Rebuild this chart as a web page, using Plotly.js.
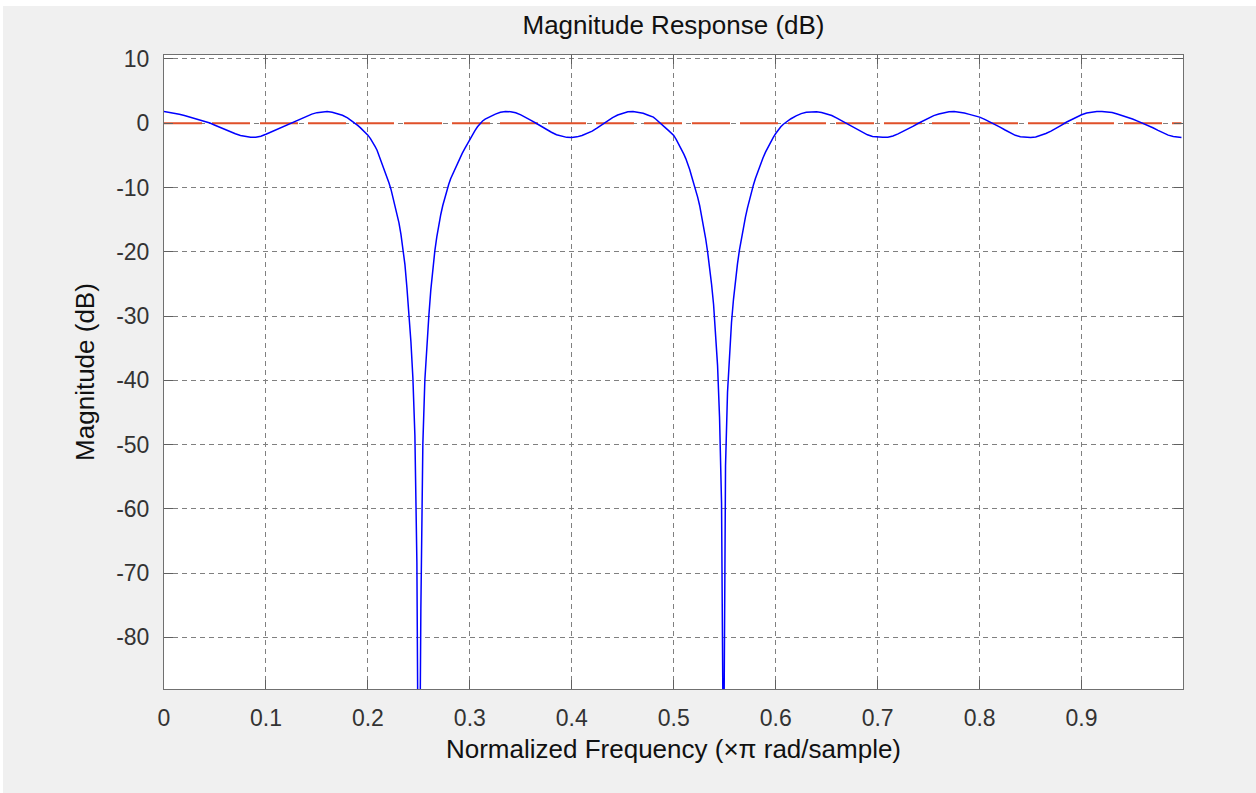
<!DOCTYPE html>
<html>
<head>
<meta charset="utf-8">
<script src="https://cdn.plot.ly/plotly-3.0.1.min.js"></script>
<style>
  html, body { margin: 0; padding: 0; background: #ffffff; }
  #chart { position: absolute; left: 3px; top: 6px; width: 1253px; height: 787px; }
</style>
</head>
<body>
<div id="chart"></div>
<script>
// Normalized frequency (x pi rad/sample)
const freq = [
  0.000, 0.005, 0.010, 0.015, 0.020, 0.025, 0.030, 0.035, 0.040, 0.045,
  0.050, 0.055, 0.060, 0.065, 0.070, 0.075, 0.080, 0.085, 0.090, 0.095,
  0.100, 0.105, 0.110, 0.115, 0.120, 0.125, 0.130, 0.135, 0.140, 0.145,
  0.150, 0.155, 0.160, 0.165, 0.170, 0.175, 0.180, 0.1825, 0.185, 0.1875,
  0.190, 0.1925, 0.195, 0.1975, 0.200, 0.2025, 0.205, 0.2070, 0.20898,
  0.21094, 0.21289, 0.21484, 0.21680, 0.21875, 0.22070, 0.22266, 0.22461,
  0.22656, 0.22852, 0.23047, 0.23242, 0.23438, 0.23633, 0.23828, 0.24023,
  0.24219, 0.24414, 0.24609, 0.24805, 0.25000, 0.25195, 0.25391, 0.25586,
  0.25781, 0.25977, 0.26172, 0.26367, 0.26563, 0.26758, 0.26953, 0.27148,
  0.27344, 0.27539, 0.27734, 0.27930, 0.28125,
  0.2832, 0.2855, 0.2875, 0.2900, 0.2925, 0.2950, 0.2975, 0.3000, 0.3025,
  0.3050, 0.3075, 0.3100, 0.3125, 0.3150, 0.320, 0.325, 0.330,
  0.335, 0.340, 0.345, 0.350, 0.355, 0.360, 0.365, 0.370, 0.375, 0.380,
  0.385, 0.390, 0.395, 0.400, 0.405, 0.410, 0.415, 0.420, 0.425, 0.430,
  0.435, 0.440, 0.445, 0.450, 0.455, 0.460, 0.465, 0.470, 0.475, 0.480,
  0.4825, 0.485, 0.4875, 0.490, 0.4925, 0.495, 0.4975, 0.500, 0.5025, 0.505,
  0.5075, 0.510, 0.5118,
  0.51367, 0.51563, 0.51758, 0.51953, 0.52148, 0.52344, 0.52539, 0.52734,
  0.52930, 0.53125, 0.53320, 0.53516, 0.53711, 0.53906, 0.54102, 0.54297,
  0.54492, 0.54688, 0.54883, 0.55078, 0.55273, 0.55469, 0.55664, 0.55859,
  0.56055, 0.56250, 0.56445, 0.56641, 0.56836, 0.57031, 0.57227, 0.57422,
  0.57617, 0.57813, 0.58008,
  0.5825, 0.5850, 0.5875, 0.5900, 0.5925, 0.5950, 0.5975, 0.6000, 0.6025,
  0.6050, 0.6075, 0.6100, 0.6125, 0.615, 0.620, 0.625, 0.630,
  0.635, 0.640, 0.645, 0.650, 0.655, 0.660, 0.665, 0.670, 0.675, 0.680,
  0.685, 0.690, 0.695, 0.700, 0.705, 0.710, 0.715, 0.720, 0.725, 0.730,
  0.735, 0.740, 0.745, 0.750, 0.755, 0.760, 0.765, 0.770, 0.775, 0.780,
  0.785, 0.790, 0.795, 0.800, 0.805, 0.810, 0.815, 0.820, 0.825, 0.830,
  0.835, 0.840, 0.845, 0.850, 0.855, 0.860, 0.865, 0.870, 0.875, 0.880,
  0.885, 0.890, 0.895, 0.900, 0.905, 0.910, 0.915, 0.920, 0.925, 0.930,
  0.935, 0.940, 0.945, 0.950, 0.955, 0.960, 0.965, 0.970, 0.975, 0.980,
  0.985, 0.990, 0.995, 0.998
];

// Magnitude (dB)
const magDb = [
  1.82, 1.72, 1.56, 1.40, 1.19, 0.98, 0.78, 0.52, 0.26, 0.03,
  -0.31, -0.66, -1.02, -1.32, -1.64, -1.92, -2.10, -2.18, -2.19, -2.02,
  -1.72, -1.38, -1.00, -0.66, -0.32, 0.02, 0.38, 0.74, 1.10, 1.42,
  1.65, 1.78, 1.82, 1.71, 1.50, 1.25, 0.85, 0.58, 0.30, 0.00,
  -0.33, -0.68, -1.04, -1.42, -1.85, -2.40, -3.00, -3.60, -4.20,
  -5.0, -5.8, -6.6, -7.5, -8.4, -9.3, -10.3, -11.5,
  -12.7, -13.9, -15.5, -17.3, -19.3, -22.0, -25.6, -29.4,
  -34.0, -39.7, -48.6, -68.4, -120, -75.5, -49.9, -40.0,
  -34.1, -30.0, -25.9, -22.6, -19.9, -17.7, -15.8, -14.2,
  -12.8, -11.6, -10.5, -9.5, -8.6,
  -7.9, -7.0, -6.3, -5.5, -4.7, -3.95, -3.2, -2.5, -1.8,
  -1.15, -0.55, -0.05, 0.35, 0.65, 1.05, 1.42, 1.70,
  1.84, 1.80, 1.62, 1.30, 0.92, 0.45, 0.00, -0.50, -0.95, -1.40,
  -1.78, -2.02, -2.20, -2.22, -2.12, -1.90, -1.60, -1.22, -0.72, -0.18,
  0.38, 0.88, 1.28, 1.58, 1.78, 1.83, 1.74, 1.55, 1.25, 0.95,
  0.62, 0.30, -0.08, -0.45, -0.80, -1.15, -1.50, -1.90, -2.55, -3.25,
  -4.05, -4.85, -5.50,
  -6.2, -7.2, -8.3, -9.3, -10.4, -11.5, -12.8, -14.4,
  -16.0, -17.9, -20.0, -22.4, -25.1, -28.2, -32.3, -37.7,
  -45.8, -59.2, -105, -53.3, -41.9, -35.7, -31.0, -27.4,
  -24.4, -21.9, -19.7, -17.8, -16.1, -14.6, -13.2, -11.9,
  -10.7, -9.6, -8.6,
  -7.5, -6.4, -5.4, -4.5, -3.7, -2.95, -2.25, -1.6, -1.0,
  -0.55, -0.15, 0.15, 0.45, 0.70, 1.15, 1.50, 1.70,
  1.80, 1.80, 1.68, 1.45, 1.20, 0.80, 0.35, -0.02, -0.50, -0.98,
  -1.42, -1.80, -2.05, -2.18, -2.20, -2.17, -1.98, -1.65, -1.28, -0.90,
  -0.45, 0.00, 0.42, 0.82, 1.18, 1.45, 1.66, 1.78, 1.82, 1.73,
  1.58, 1.38, 1.16, 0.95, 0.60, 0.22, -0.12, -0.60, -1.05, -1.50,
  -1.88, -2.10, -2.20, -2.22, -2.14, -1.92, -1.60, -1.22, -0.82, -0.32,
  0.15, 0.55, 0.95, 1.32, 1.58, 1.74, 1.81, 1.82, 1.77, 1.66,
  1.45, 1.22, 0.95, 0.65, 0.32, 0.02, -0.35, -0.70, -1.10, -1.48,
  -1.85, -2.05, -2.18, -2.22
];

// 0 dB reference line
const refFreq = [0, 0.998];
const refDb = [0, 0];

const xTickVals = [0, 0.1, 0.2, 0.3, 0.4, 0.5, 0.6, 0.7, 0.8, 0.9];
const xTickText = ['0', '0.1', '0.2', '0.3', '0.4', '0.5', '0.6', '0.7', '0.8', '0.9'];
const yTickVals = [10, 0, -10, -20, -30, -40, -50, -60, -70, -80];
const yTickText = ['10', '0', '-10', '-20', '-30', '-40', '-50', '-60', '-70', '-80'];

const FONT = 'Liberation Sans, Arial, sans-serif';

const traces = [
  {
    x: refFreq, y: refDb, type: 'scatter', mode: 'lines',
    line: { color: '#e0502a', width: 2, dash: '38px,10px' },
    hoverinfo: 'skip', showlegend: false
  },
  {
    x: freq, y: magDb, type: 'scatter', mode: 'lines',
    line: { color: '#0000ff', width: 1.5 },
    showlegend: false
  }
];

const axisCommon = {
  showline: true, linecolor: '#707070', linewidth: 1, mirror: 'ticks',
  ticks: 'inside', ticklen: 9, tickcolor: '#606060', tickwidth: 1,
  showgrid: true, gridcolor: '#808080', gridwidth: 1, griddash: '5px,4px',
  zeroline: false,
  tickfont: { family: FONT, size: 23, color: '#333333' }
};

const layout = {
  width: 1253, height: 787,
  paper_bgcolor: '#f0f0f0', plot_bgcolor: '#ffffff',
  margin: { l: 161, r: 73, t: 49, b: 104, pad: 0 },
  title: {
    text: 'Magnitude Response (dB)',
    font: { family: FONT, size: 26, color: '#111111' },
    xref: 'paper', x: 0.5, xanchor: 'center',
    yref: 'container', y: 1 - 19 / 787, yanchor: 'middle'
  },
  xaxis: Object.assign({}, axisCommon, {
    range: [0, 0.9995],
    tickmode: 'array', tickvals: xTickVals, ticktext: xTickText,
    ticklabelstandoff: 8,
    title: { text: 'Normalized Frequency (×π rad/sample)', font: { family: FONT, size: 26, color: '#111111' }, standoff: 10 }
  }),
  yaxis: Object.assign({}, axisCommon, {
    range: [-88.05, 10.62],
    tickmode: 'array', tickvals: yTickVals, ticktext: yTickText,
    ticklabelstandoff: 9,
    title: { text: 'Magnitude (dB)', font: { family: FONT, size: 26, color: '#111111' }, standoff: 14 }
  }),
  showlegend: false
};

Plotly.newPlot('chart', traces, layout, { displayModeBar: false, staticPlot: true });
</script>
</body>
</html>
